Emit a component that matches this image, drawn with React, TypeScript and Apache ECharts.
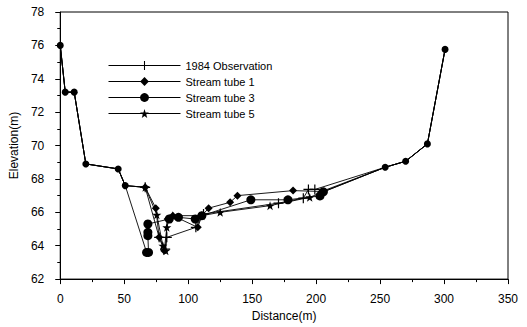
import React, { useEffect, useRef } from "react";
import * as echarts from "echarts";

// Common bank points shared by all series (distance m, elevation m)
const leftBank: number[][] = [[0, 76], [3.9, 73.2], [10.9, 73.2], [20, 68.9], [45.3, 68.6], [50.8, 67.6]];
const rightBank: number[][] = [[254, 68.7], [270, 69.06], [287, 70.1], [300.8, 75.76]];

const observation1984: number[][] = [
  [66.4, 67.5], [77.3, 64.5], [82, 63.8], [83.3, 64.5], [106, 65.1], [112, 65.9],
  [170.6, 66.55], [190, 66.85], [194, 67.37], [199, 67.37],
];
const streamTube1: number[][] = [
  [66.4, 67.5], [74.7, 66.25], [77.3, 64.5], [81.3, 63.7], [84, 65.6], [88, 65.8],
  [107.5, 65.1], [110.7, 65.8], [116, 66.25], [132.8, 66.6], [138.5, 67.0], [182, 67.3], [204.4, 67.25],
];
const streamTube3: number[][] = [
  [67.5, 63.6], [69, 63.6], [68.5, 64.6], [68.5, 64.8], [68.5, 65.3], [85.2, 65.6], [92.4, 65.7],
  [105.5, 65.6], [110.7, 65.8], [149, 66.75], [178, 66.75], [203, 66.98], [205.7, 67.23],
];
const streamTube5: number[][] = [
  [66.4, 67.5], [75.5, 65.85], [80.2, 64.0], [82.5, 63.7], [83.3, 65.1], [85.2, 65.6], [88, 65.8],
  [110.7, 65.8], [125, 66.0], [164, 66.4], [195, 66.9],
];

const seriesNames = ["1984 Observation", "Stream tube 1", "Stream tube 3", "Stream tube 5"];
const xTicks = [0, 350, 50];
const yTicks = [62, 78, 2];

const PLUS = "path://M4.4,0H5.6V4.4H10V5.6H5.6V10H4.4V5.6H0V4.4H4.4Z";
const STAR = "path://M50,0L61.8,35.1H97.6L68.9,56.7L79.4,90.5L50,70L20.6,90.5L31.1,56.7L2.4,35.1H38.2Z";

export default function App() {
  const ref = useRef<HTMLDivElement>(null);
  useEffect(() => {
    document.body.style.margin = "0";
    const chart = echarts.init(ref.current!, null, { renderer: "svg" });
    const font = "Arial, 'Liberation Sans', sans-serif";
    const build = (pts: number[][], showBank: boolean, bankSize: number) => {
      const bank = (p: number[]) =>
        showBank ? { value: p, symbolSize: bankSize } : { value: p, symbol: "none" };
      return [...leftBank.map(bank), ...pts.map((p) => ({ value: p })), ...rightBank.map(bank)];
    };
    const common = {
      type: "line",
      lineStyle: { color: "#000", width: 0.9 },
      itemStyle: { color: "#000" },
      z: 2,
    };
    chart.setOption({
      animation: false,
      backgroundColor: "#fff",
      grid: { left: 60, right: 19, top: 12, bottom: 43, show: true, borderColor: "#000", borderWidth: 1 },
      legend: {
        orient: "vertical",
        left: 103,
        top: 55,
        itemWidth: 72,
        itemHeight: 11,
        itemGap: 5,
        lineStyle: { width: 1, color: "#000" },
        textStyle: { fontFamily: font, fontSize: 11, color: "#000" },
        data: seriesNames,
      },
      xAxis: {
        type: "value",
        min: xTicks[0],
        max: xTicks[1],
        interval: xTicks[2],
        name: "Distance(m)",
        nameLocation: "middle",
        nameGap: 27,
        nameTextStyle: { fontFamily: font, fontSize: 12, color: "#000" },
        axisLine: { lineStyle: { color: "#000" } },
        axisTick: { inside: false, length: 5, lineStyle: { color: "#000" } },
        minorTick: { show: true, splitNumber: 2, length: 3, lineStyle: { color: "#000" } },
        axisLabel: { fontFamily: font, fontSize: 12, color: "#000", margin: 14 },
        splitLine: { show: false },
      },
      yAxis: {
        type: "value",
        min: yTicks[0],
        max: yTicks[1],
        interval: yTicks[2],
        name: "Elevation(m)",
        nameLocation: "middle",
        nameGap: 40,
        nameTextStyle: { fontFamily: font, fontSize: 12, color: "#000" },
        axisLine: { lineStyle: { color: "#000" } },
        axisTick: { inside: false, length: 5, lineStyle: { color: "#000" } },
        minorTick: { show: true, splitNumber: 2, length: 3, lineStyle: { color: "#000" } },
        axisLabel: { fontFamily: font, fontSize: 12, color: "#000", margin: 16 },
        splitLine: { show: false },
      },
      series: [
        { ...common, name: seriesNames[0], symbol: PLUS, symbolSize: 10, data: build(observation1984, false, 0) },
        { ...common, name: seriesNames[1], symbol: "diamond", symbolSize: 8, data: build(streamTube1, false, 0) },
        { ...common, name: seriesNames[2], symbol: "circle", symbolSize: 9, data: build(streamTube3, true, 7) },
        { ...common, name: seriesNames[3], symbol: STAR, symbolSize: 9, data: build(streamTube5, false, 0) },
      ],
    });
    return () => chart.dispose();
  }, []);
  return <div ref={ref} style={{ width: 527, height: 327 }} />;
}
